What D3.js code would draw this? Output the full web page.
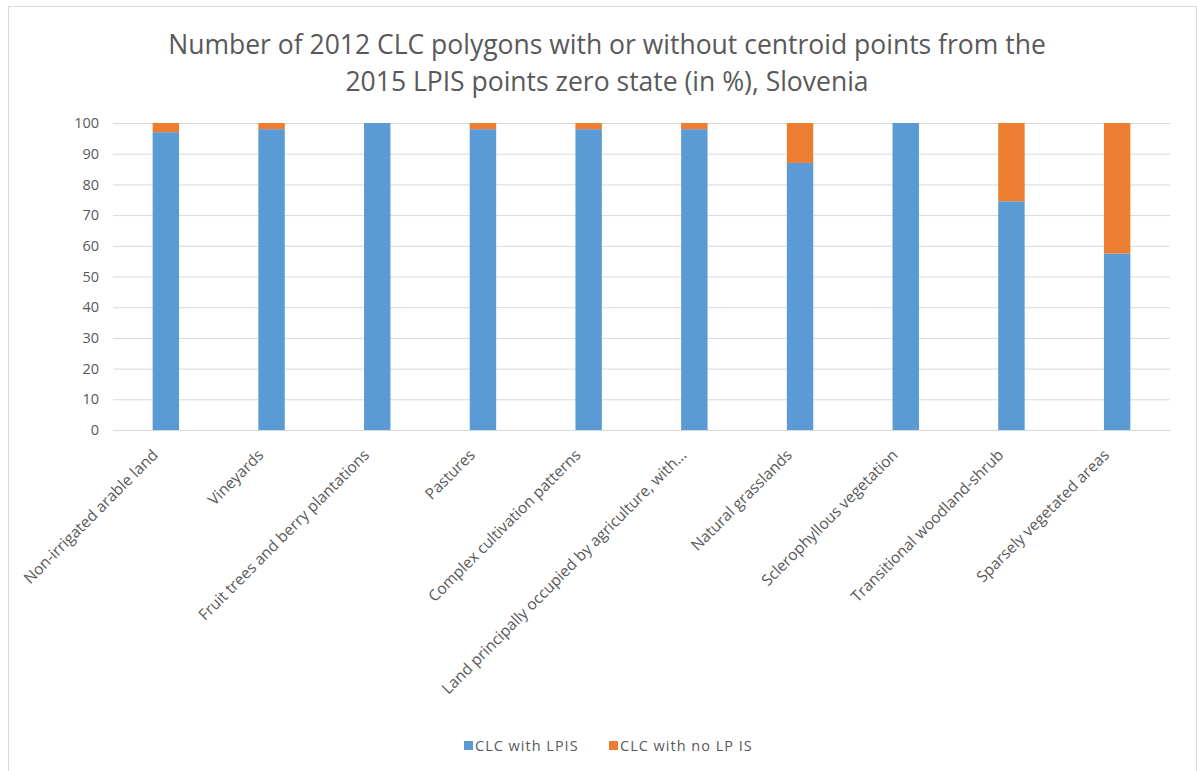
<!DOCTYPE html>
<html>
<head>
<meta charset="utf-8">
<script src="https://cdn.jsdelivr.net/npm/d3@7"></script>
<style>
  body { margin: 0; background: #fff; }
  text { font-family: "Open Sans", "Noto Sans", sans-serif; fill: #595959; }
</style>
</head>
<body>
<div id="chartMain"></div>
<script>
const categories = [
    "Non-irrigated arable land",
    "Vineyards",
    "Fruit trees and berry plantations",
    "Pastures",
    "Complex cultivation patterns",
    "Land principally occupied by agriculture, with...",
    "Natural grasslands",
    "Sclerophyllous vegetation",
    "Transitional woodland-shrub",
    "Sparsely vegetated areas"
];
const withLpis   = [97, 98, 100, 98, 98, 98, 87, 100, 74.5, 57.5];
const withNoLpis = [3, 2, 0, 2, 2, 2, 13, 0, 25.5, 42.5];
const seriesNames = ["CLC with LPIS", "CLC with no LP IS"];
const seriesColors = ["#5b9bd5", "#ed7d31"];
const yTicks = [0, 10, 20, 30, 40, 50, 60, 70, 80, 90, 100];
const titleLines = [
    "Number of 2012 CLC polygons with or without centroid points from the",
    "2015 LPIS points zero state (in %), Slovenia"
];

const W = 1197, H = 771;
const margin = { top: 123, right: 27, bottom: 341, left: 113 };
const width = W - margin.left - margin.right,
      height = H - margin.top - margin.bottom;

const svg = d3.select('#chartMain')
    .append('svg')
    .attr('width', W)
    .attr('height', H);

// chart frame
svg.append('rect')
    .attr('x', 8.5).attr('y', 6.5)
    .attr('width', 1188).attr('height', 790)
    .attr('fill', 'none')
    .attr('stroke', '#d9d9d9');

// title
svg.append('g')
    .selectAll('text')
    .data(titleLines)
    .join('text')
    .attr('x', 607)
    .attr('y', (d, i) => 54 + i * 37)
    .attr('text-anchor', 'middle')
    .attr('font-size', 26.5)
    .text(d => d);

const g = svg.append('g')
    .attr('transform', `translate(${margin.left},${margin.top})`);

const x = d3.scaleBand()
    .domain(categories)
    .range([0, width])
    .paddingInner(0.75)
    .paddingOuter(0.375);

const y = d3.scaleLinear()
    .domain([0, 100])
    .range([height, 0]);

// gridlines
g.append('g')
    .selectAll('line')
    .data(yTicks)
    .join('line')
    .attr('x1', 0).attr('x2', width)
    .attr('y1', d => y(d) + 0.5).attr('y2', d => y(d) + 0.5)
    .attr('stroke', '#d9d9d9');

// y axis labels
const yAxis = d3.axisLeft(y).tickValues(yTicks).tickSize(0).tickPadding(14);
g.append('g')
    .call(yAxis)
    .call(s => s.select('.domain').remove())
    .selectAll('text')
    .attr('font-size', 14.5)
    .style('font-family', '"Open Sans", sans-serif')
    .attr('fill', '#595959');

// stacked bars
const stackData = categories.map((c, i) => ({ cat: c, a: withLpis[i], b: withNoLpis[i] }));
const stack = d3.stack().keys(['a', 'b'])(stackData);

g.append('g')
    .selectAll('g')
    .data(stack)
    .join('g')
    .attr('fill', (d, i) => seriesColors[i])
    .selectAll('rect')
    .data(d => d)
    .join('rect')
    .attr('x', d => x(d.data.cat))
    .attr('width', x.bandwidth())
    .attr('y', d => y(d[1]))
    .attr('height', d => y(d[0]) - y(d[1]));

// x axis
const xAxis = d3.axisBottom(x).tickSize(0).tickPadding(0);
const xg = g.append('g')
    .attr('transform', `translate(0,${height})`)
    .call(xAxis);
xg.select('.domain').attr('stroke', '#d9d9d9');
xg.selectAll('text')
    .attr('font-size', 15.5)
    .style('font-family', '"Open Sans", sans-serif')
    .attr('fill', '#595959')
    .attr('text-anchor', 'end')
    .attr('dy', 0)
    .attr('transform', 'translate(-7,26) rotate(-45)');

// legend
const legend = svg.append('g')
    .attr('transform', 'translate(464,745)');
const legendX = [0, 145];
seriesNames.forEach((name, i) => {
    const lg = legend.append('g').attr('transform', `translate(${legendX[i]},0)`);
    lg.append('rect')
        .attr('x', 0).attr('y', -4)
        .attr('width', 9).attr('height', 9)
        .attr('fill', seriesColors[i]);
    lg.append('text')
        .attr('x', 11).attr('y', 5.5)
        .attr('font-size', 14.5)
        .style('letter-spacing', '1px')
        .text(name);
});
</script>
</body>
</html>
